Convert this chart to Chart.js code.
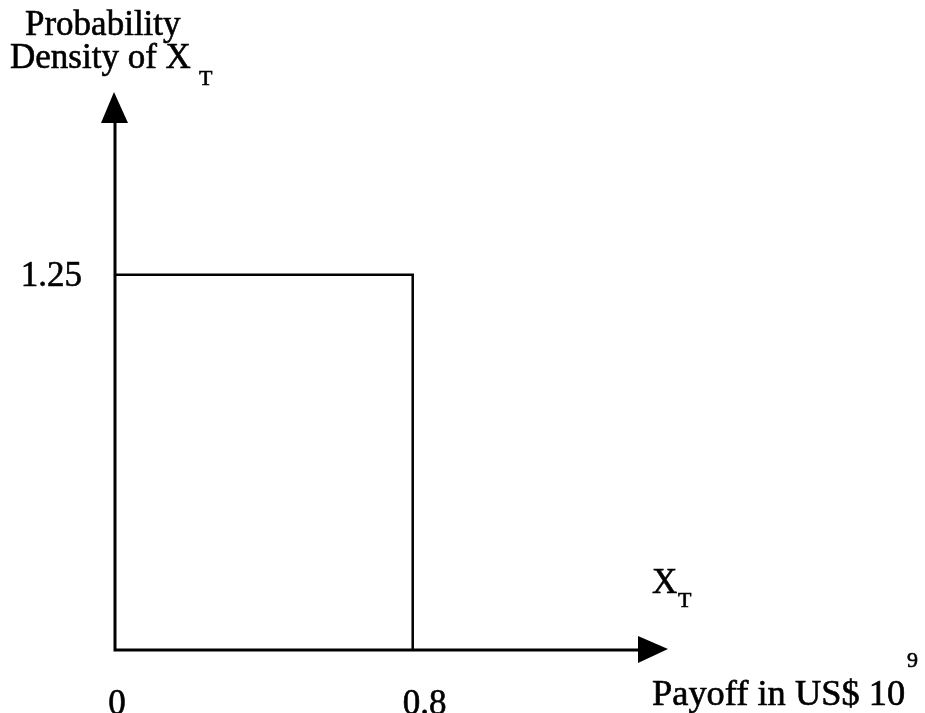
<!DOCTYPE html>
<html>
<head>
<meta charset="utf-8">
<script src="https://cdn.jsdelivr.net/npm/chart.js@4/dist/chart.umd.min.js"></script>
<style>
  html, body { margin: 0; padding: 0; background: #fff; }
  #wrap { width: 925px; height: 713px; }
</style>
</head>
<body>
<div id="wrap"><canvas id="density"></canvas></div>
<script>
// uniform density of the payoff X_T on [0, 0.8]
const payoff = [0, 0.8, 0.8];
const density = [1.25, 1.25, 0];
const xTicks = [0, 0.8];
const yTicks = [1.25];

const FONT = '"Liberation Serif", "Times New Roman", serif';
const BIG = '35px ' + FONT;
const SMALL = '22px ' + FONT;
const INK = '#000';

// text with a faint outline so it reads a little heavier, optional x-stretch
function label(ctx, text, x, y, sx = 1) {
  ctx.save();
  ctx.translate(x, y);
  ctx.scale(sx, 1);
  ctx.fillText(text, 0, 0);
  ctx.lineWidth = 0.6;
  ctx.strokeText(text, 0, 0);
  ctx.restore();
}

// axes with arrowheads, tick labels and captions
const axesPlugin = {
  id: 'arrowAxes',
  afterDatasetsDraw(chart) {
    const { ctx, scales: { x, y } } = chart;
    const x0 = x.getPixelForValue(0);
    const y0 = y.getPixelForValue(0);
    const xEnd = x.getPixelForValue(x.max);
    const yEnd = y.getPixelForValue(y.max);
    ctx.save();
    ctx.strokeStyle = INK;
    ctx.fillStyle = INK;
    ctx.lineWidth = 3;
    ctx.beginPath();
    ctx.moveTo(x0, y0);
    ctx.lineTo(xEnd - 20, y0);
    ctx.moveTo(x0, y0 + 1.5);
    ctx.lineTo(x0, yEnd + 20);
    ctx.stroke();

    // arrowheads
    ctx.beginPath();
    ctx.moveTo(xEnd, y0 - 1);
    ctx.lineTo(xEnd - 30, y0 - 14);
    ctx.lineTo(xEnd - 30, y0 + 13);
    ctx.closePath();
    ctx.fill();
    ctx.beginPath();
    ctx.moveTo(x0 - 1, yEnd);
    ctx.lineTo(x0 - 14, yEnd + 31);
    ctx.lineTo(x0 + 13, yEnd + 31);
    ctx.closePath();
    ctx.fill();

    // tick labels
    ctx.font = BIG;
    ctx.textBaseline = 'alphabetic';
    ctx.textAlign = 'left';
    xTicks.forEach(v => {
      const text = String(v);
      const px = x.getPixelForValue(v);
      const lx = v === 0 ? px - ctx.measureText(text).width / 2 + 2 : px - 10;
      label(ctx, text, lx, y0 + 64);
    });
    yTicks.forEach(v => {
      const text = String(v);
      label(ctx, text, x0 - 33 - ctx.measureText(text).width, y.getPixelForValue(v) + 11);
    });

    // axis captions
    label(ctx, 'Probability', 25, 35);
    label(ctx, 'Density of X', 10, 68);
    label(ctx, 'X', 652, 593);
    label(ctx, 'Payoff in US$ 10', 652, 705, 1.04);
    ctx.font = SMALL;
    label(ctx, 'T', 199, 85);
    label(ctx, 'T', 678, 607);
    label(ctx, '9', 907, 667);
    ctx.restore();
  }
};

function draw() {
  new Chart(document.getElementById('density'), {
    type: 'line',
    data: {
      datasets: [{
        data: payoff.map((v, i) => ({ x: v, y: density[i] })),
        borderColor: INK,
        borderWidth: 2.5,
        pointRadius: 0,
        tension: 0,
        fill: false,
        clip: false
      }]
    },
    options: {
      responsive: true,
      maintainAspectRatio: false,
      animation: false,
      layout: { padding: { left: 115, right: 257, top: 92, bottom: 63 } },
      plugins: { legend: { display: false }, tooltip: { enabled: false } },
      scales: {
        x: { type: 'linear', display: false, min: 0, max: 1.486 },
        y: { type: 'linear', display: false, min: 0, max: 1.859 }
      }
    },
    plugins: [axesPlugin]
  });
}

// wait for the serif face so the canvas text doesn't fall back
Promise.all([document.fonts.load(BIG), document.fonts.load(SMALL)])
  .then(draw, draw);
</script>
</body>
</html>
